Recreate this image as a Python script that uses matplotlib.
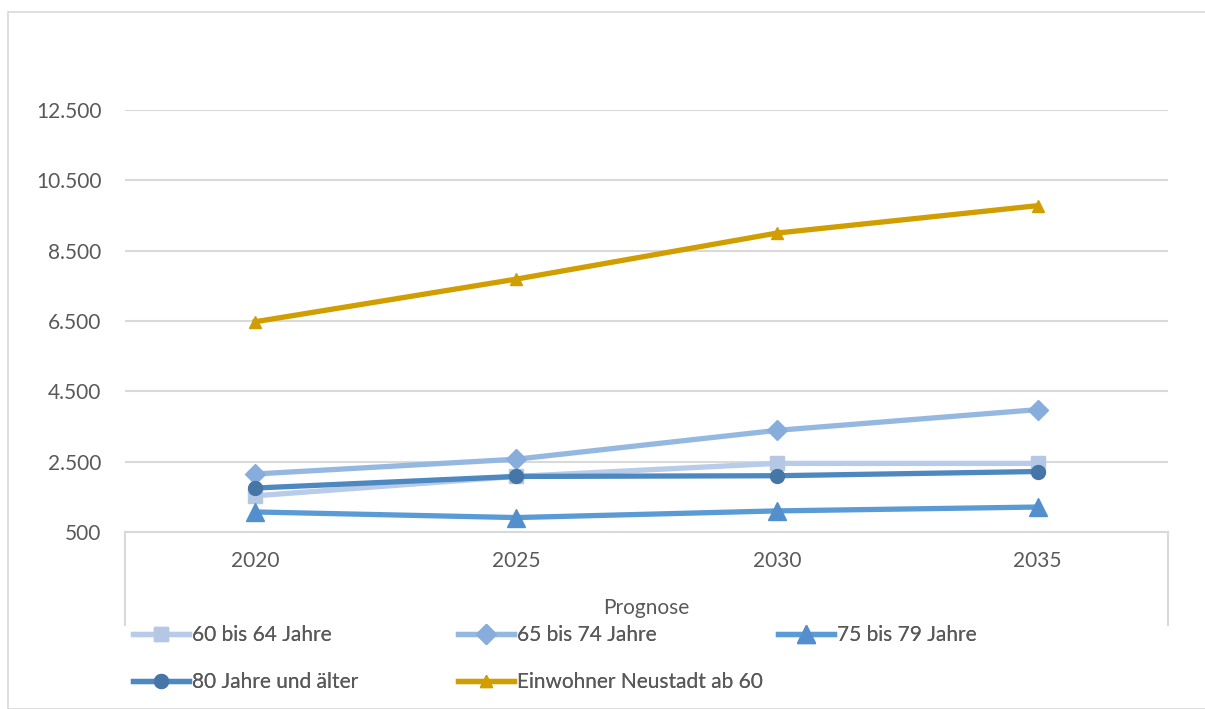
import matplotlib
matplotlib.use("Agg")
import matplotlib.pyplot as plt
from matplotlib.lines import Line2D
from matplotlib.patches import Rectangle

plt.rcParams['font.family'] = ['Lato', 'DejaVu Sans']

# Daten (Prognose)
jahre = ['2020', '2025', '2030', '2035']
werte_60_64 = [1530, 2080, 2450, 2450]
werte_65_74 = [2150, 2570, 3390, 3980]
werte_75_79 = [1070, 910, 1100, 1210]
werte_80_plus = [1750, 2080, 2100, 2220]
werte_gesamt = [6480, 7690, 9000, 9780]
y_ticks = [500, 2500, 4500, 6500, 8500, 10500, 12500]

grau_text = '#595959'
grau_linie = '#D9D9D9'
fs = 15

W, H = 1205, 709
fig = plt.figure(figsize=(W / 100, H / 100), dpi=100)

# Rahmen des Diagramms
fig.patches.append(Rectangle((8 / W, 0), 1.1, 1 - 12 / H, transform=fig.transFigure,
                             fill=False, edgecolor=grau_linie, linewidth=1.2))

ax = fig.add_axes([125 / W, 1 - 532 / H, (1168 - 125) / W, (532 - 110) / H])

x = range(len(jahre))
l1, = ax.plot(x, werte_60_64, color='#B8CCE9', lw=3.8, marker='s', ms=10,
              mfc='#B4C8E6', mec='#B4C8E6', label='60 bis 64 Jahre')
l2, = ax.plot(x, werte_65_74, color='#95B8E0', lw=3.8, marker='D', ms=10,
              mfc='#86ADDC', mec='#86ADDC', label='65 bis 74 Jahre')
l3, = ax.plot(x, werte_75_79, color='#5B9BD5', lw=3.8, marker='^', ms=13,
              mfc='#528FCC', mec='#528FCC', label='75 bis 79 Jahre')
l4, = ax.plot(x, werte_80_plus, color='#4D88C0', lw=3.8, marker='o', ms=10,
              mfc='#4675A8', mec='#4675A8', label='80 Jahre und älter')
l5, = ax.plot(x, werte_gesamt, color='#D09E00', lw=3.8, marker='^', ms=8,
              mfc='#D09E00', mec='#D09E00', label='Einwohner Neustadt ab 60')

ax.set_xlim(-0.5, len(jahre) - 0.5)
ax.set_ylim(500, 12500)
ax.set_yticks(y_ticks)
ax.set_yticklabels([f'{v:,.0f}'.replace(',', '.') for v in y_ticks])
ax.set_xticks(list(x))
ax.set_xticklabels(jahre)
ax.tick_params(axis='both', length=0, labelsize=fs, labelcolor=grau_text)
ax.tick_params(axis='y', pad=17)
ax.tick_params(axis='x', pad=14)
ax.grid(True, axis='y', color=grau_linie, linewidth=1.5)
ax.set_axisbelow(True)
for s in ['top', 'right', 'left']:
    ax.spines[s].set_visible(False)
ax.spines['bottom'].set_color(grau_linie)
ax.spines['bottom'].set_linewidth(1.5)

# Kategorienkasten unter der x-Achse
for xp in [125, 1168]:
    fig.add_artist(Line2D([xp / W, xp / W], [1 - 532 / H, 1 - 625 / H],
                          color=grau_linie, lw=1.5))
fig.text(646 / W, 1 - 608 / H, 'Prognose', ha='center', va='center',
         fontsize=fs, color=grau_text)

# Legende in drei Spalten gleicher Breite
spalten = [([l1, l4], 133), ([l2, l5], 458), ([l3], 778)]
for handles, xp in spalten:
    leg = fig.legend(handles=handles, loc='upper left',
                     bbox_to_anchor=(xp / W, 1 - 625 / H), frameon=False,
                     fontsize=fs, handlelength=2.7, handletextpad=0.15,
                     labelspacing=1.3, borderaxespad=0, borderpad=0,
                     labelcolor=grau_text)
    fig.add_artist(leg)

fig.savefig('out.png', dpi=100)
